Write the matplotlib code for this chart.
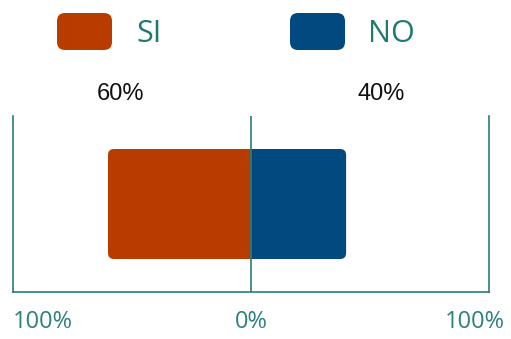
import matplotlib
matplotlib.use('Agg')
import matplotlib.pyplot as plt
from matplotlib.patches import FancyBboxPatch, Rectangle
from matplotlib.transforms import ScaledTranslation

# answer shares (percent)
labels = ['SI', 'NO']
values = [60, 40]
colors = ['#b83c00', '#004a80']
sides = [-1, 1]  # SI grows to the left, NO to the right
tick_pos = [-100, 0, 100]
tick_labels = ['100%', '0%', '100%']

teal = '#2a7d78'

fig = plt.figure(figsize=(5.11, 3.39), dpi=100)
W, H = 511, 339

# axes spanning the plot frame
ax = fig.add_axes([12.7 / W, 1 - 292 / H, (489 - 12.7) / W, (292 - 116) / H])
ax.set_xlim(-100, 100)
ax.set_ylim(0, 1)

ax.spines['top'].set_visible(False)
for s in ['left', 'right', 'bottom']:
    ax.spines[s].set_color(teal)
    ax.spines[s].set_linewidth(1.2)
ax.set_yticks([])
ax.set_xticks(tick_pos)
ax.set_xticklabels(tick_labels, fontsize=17, color='#2e817c', family='Open Sans')
ax.tick_params(axis='x', length=0, pad=13)
lbls = ax.get_xticklabels()
lbls[0].set_ha('left')
lbls[-1].set_ha('right')
lbls[-1].set_transform(lbls[-1].get_transform() + ScaledTranslation(16 / 100, 0, fig.dpi_scale_trans))

# pixel-per-unit ratio so corner rounding looks circular
px_x = (489 - 12.7) / 200.0
px_y = 176.0
r_px = 6
bar_y0, bar_h = 0.1875, 0.625

for lab, v, c, sd in zip(labels, values, colors, sides):
    x0 = min(0, sd * v)
    rounded = FancyBboxPatch((x0, bar_y0), v, bar_h,
                             boxstyle='round,pad=0,rounding_size=%f' % (r_px / px_x),
                             mutation_aspect=px_x / px_y,
                             fc=c, ec='none', zorder=2)
    ax.add_patch(rounded)
    # square off the inner corners at the centre line
    half = v / 2.0
    ax.add_patch(Rectangle((min(0, sd * half), bar_y0), half, bar_h,
                           fc=c, ec='none', zorder=2))
    # percentage above the bar
    fig.text((251 + sd * 130) / W, 1 - 94 / H, '%d%%' % v,
             ha='center', va='center', fontsize=17, family='Liberation Sans', color='#111111')

ax.axvline(0, color=teal, lw=1.2, zorder=3)

# legend boxes
leg_x = [57, 290]
txt_x = [136, 368]
for lab, c, lx, tx in zip(labels, colors, leg_x, txt_x):
    box = FancyBboxPatch((lx / W, 1 - 50 / H), 55 / W, 37 / H,
                         boxstyle='round,pad=0,rounding_size=%f' % (8 / W),
                         mutation_aspect=W / H,
                         transform=fig.transFigure, fc=c, ec='none')
    fig.patches.append(box)
    fig.text(tx / W, 1 - 34 / H, lab, ha='left', va='center',
             fontsize=22, family='Open Sans', color='#1f7a72')

fig.savefig('out.png', dpi=100)
